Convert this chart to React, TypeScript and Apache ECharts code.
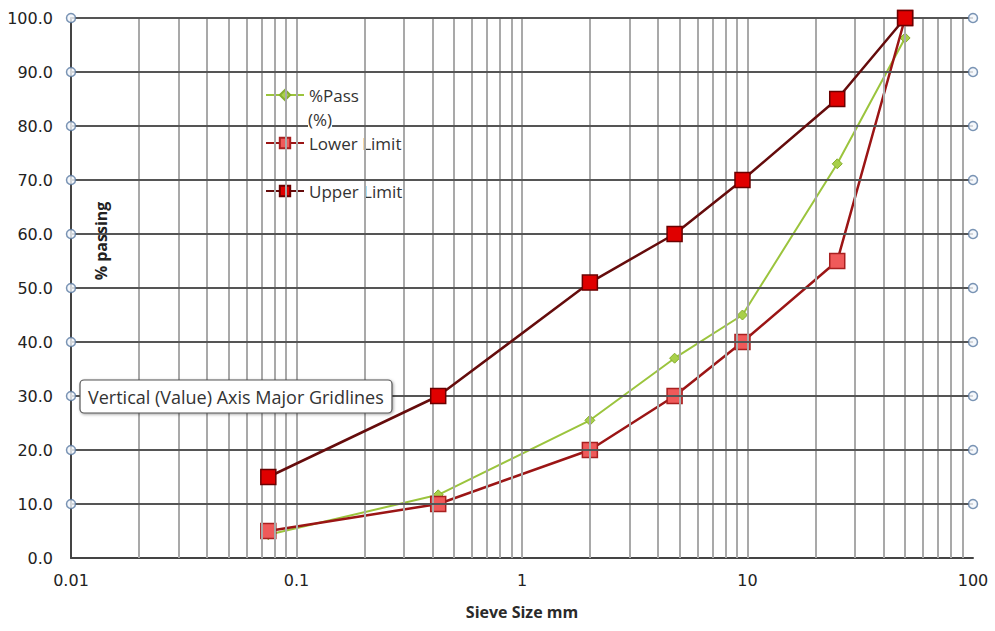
import React, { useEffect, useRef } from "react";
import * as echarts from "echarts";

const sieveSizes = [0.075, 0.425, 2, 4.75, 9.5, 25, 50];
const passValues = [4.3, 11.7, 25.5, 37, 45, 73, 96.3];
const lowerLimit = [5, 10, 20, 30, 40, 55, 100];
const upperLimit = [15, 30, 51, 60, 70, 85, 100];

const xTickLabels = ["0.01", "0.1", "1", "10", "100"];
const yGridValues = [10, 20, 30, 40, 50, 60, 70, 80, 90, 100];
const handleValues = [10, 20, 30, 40, 50, 60, 70, 80, 90, 100];
const xGridValues = [
  0.02, 0.03, 0.04, 0.05, 0.06, 0.07, 0.08, 0.09, 0.1,
  0.2, 0.3, 0.4, 0.5, 0.6, 0.7, 0.8, 0.9, 1,
  2, 3, 4, 5, 6, 7, 8, 9, 10,
  20, 30, 40, 50, 60, 70, 80, 90,
];

const FONT = "'Open Sans', 'DejaVu Sans', sans-serif";
const NUMFONT = "'DejaVu Sans', sans-serif";

export default function App() {
  const ref = useRef<HTMLDivElement>(null);

  useEffect(() => {
    if (!ref.current) return;
    const chart = echarts.init(ref.current, undefined, { renderer: "svg" });
    const zip = (ys: number[]) => sieveSizes.map((x, i) => [x, ys[i]]);
    const handles: number[][] = [];
    handleValues.forEach((y) => {
      handles.push([0.01, y]);
      handles.push([100, y]);
    });

    chart.setOption({
      animation: false,
      backgroundColor: "#ffffff",
      textStyle: { fontFamily: FONT },
      grid: { left: 71, right: 22, top: 18, bottom: 73, containLabel: false },
      xAxis: {
        type: "log",
        logBase: 10,
        min: 0.01,
        max: 100,
        name: "Sieve Size mm",
        nameLocation: "middle",
        nameGap: 46,
        nameTextStyle: { fontFamily: FONT, fontSize: 16, fontWeight: "bold", color: "#2a2a2a" },
        axisLine: { show: true, onZero: false, lineStyle: { color: "#444", width: 2 } },
        axisTick: { show: false },
        splitLine: { show: false },
        minorSplitLine: { show: false },
        axisLabel: {
          margin: 14,
          fontFamily: NUMFONT,
          fontSize: 16,
          color: "#222",
          formatter: (_v: number, i: number) => xTickLabels[i] ?? "",
        },
      },
      yAxis: {
        type: "value",
        min: 0,
        max: 100,
        interval: 10,
        axisLine: { show: true, lineStyle: { color: "#444", width: 2 } },
        axisTick: { show: false },
        splitLine: { show: false },
        axisLabel: {
          margin: 18,
          fontFamily: NUMFONT,
          fontSize: 16,
          color: "#222",
          formatter: (v: number) => v.toFixed(1),
        },
      },
      legend: {
        orient: "vertical",
        left: 265,
        top: 85,
        padding: 0,
        itemWidth: 38,
        itemHeight: 13,
        itemGap: 28,
        data: ["%Pass (%)", "Lower Limit", "Upper Limit"],
        formatter: (name: string) => (name === "%Pass (%)" ? "%Pass" : name),
        textStyle: {
          fontFamily: FONT,
          fontSize: 17,
          color: "#333",
          backgroundColor: "#ffffff",
          lineHeight: 20,
        },
      },
      graphic: [
        {
          type: "text",
          x: 308,
          y: 119,
          z: 100,
          style: {
            text: "(%)",
            font: `17px ${FONT}`,
            fill: "#333",
            textVerticalAlign: "middle",
            backgroundColor: "#ffffff",
            lineHeight: 18,
          },
        },
        {
          type: "text",
          x: 101,
          y: 241,
          z: 100,
          rotation: Math.PI / 2,
          style: {
            text: "% passing",
            font: `bold 16px ${FONT}`,
            fill: "#222",
            textAlign: "center",
            textVerticalAlign: "middle",
          },
        },
        {
          type: "rect",
          z: 100,
          shape: { x: 80, y: 380, width: 312, height: 33, r: 4 },
          style: {
            fill: "#ffffff",
            stroke: "#555",
            lineWidth: 1.2,
            shadowBlur: 3,
            shadowColor: "rgba(0,0,0,0.35)",
            shadowOffsetX: 1,
            shadowOffsetY: 1,
          },
        },
        {
          type: "text",
          z: 101,
          x: 88,
          y: 396.5,
          style: {
            text: "Vertical (Value) Axis Major Gridlines",
            font: `18px ${FONT}`,
            fill: "#333",
            textVerticalAlign: "middle",
          },
        },
      ],
      series: [
        {
          name: "vgrid",
          type: "line",
          data: [],
          z: 1,
          silent: true,
          markLine: {
            silent: true,
            symbol: ["none", "none"],
            label: { show: false },
            lineStyle: { color: "#a9a9a9", width: 2, type: "solid" },
            emphasis: { disabled: true },
            data: xGridValues.map((v) => ({ xAxis: v })),
          },
        },
        {
          name: "hgrid",
          type: "line",
          data: [],
          z: 1,
          silent: true,
          markLine: {
            silent: true,
            symbol: ["none", "none"],
            label: { show: false },
            lineStyle: { color: "#555", width: 2, type: "solid" },
            emphasis: { disabled: true },
            data: yGridValues.map((v) => ({ yAxis: v })),
          },
        },
        {
          name: "%Pass (%)",
          type: "line",
          data: zip(passValues),
          z: 3,
          symbol: "diamond",
          symbolSize: 10,
          lineStyle: { color: "#9bc43d", width: 2 },
          itemStyle: { color: "#a8d04a", borderColor: "#86ad2e", borderWidth: 1 },
        },
        {
          name: "Lower Limit",
          type: "line",
          data: zip(lowerLimit),
          z: 4,
          symbol: "rect",
          symbolSize: 15,
          lineStyle: { color: "#9b1515", width: 2.5 },
          itemStyle: { color: "#f05a5a", borderColor: "#a82020", borderWidth: 1.5 },
        },
        {
          name: "Upper Limit",
          type: "line",
          data: zip(upperLimit),
          z: 5,
          symbol: "rect",
          symbolSize: 15,
          lineStyle: { color: "#650c0c", width: 2.5 },
          itemStyle: { color: "#e00000", borderColor: "#6a0000", borderWidth: 1.5 },
        },
        {
          name: "handles",
          type: "scatter",
          data: handles,
          clip: false,
          z: 6,
          silent: true,
          symbol: "circle",
          symbolSize: 9,
          itemStyle: { color: "#f2f6fb", borderColor: "#5878a0", borderWidth: 1.5 },
        },
      ],
    });

    return () => chart.dispose();
  }, []);

  return (
    <div
      ref={ref}
      style={{ position: "fixed", left: 0, top: 0, width: 995, height: 631 }}
    />
  );
}
